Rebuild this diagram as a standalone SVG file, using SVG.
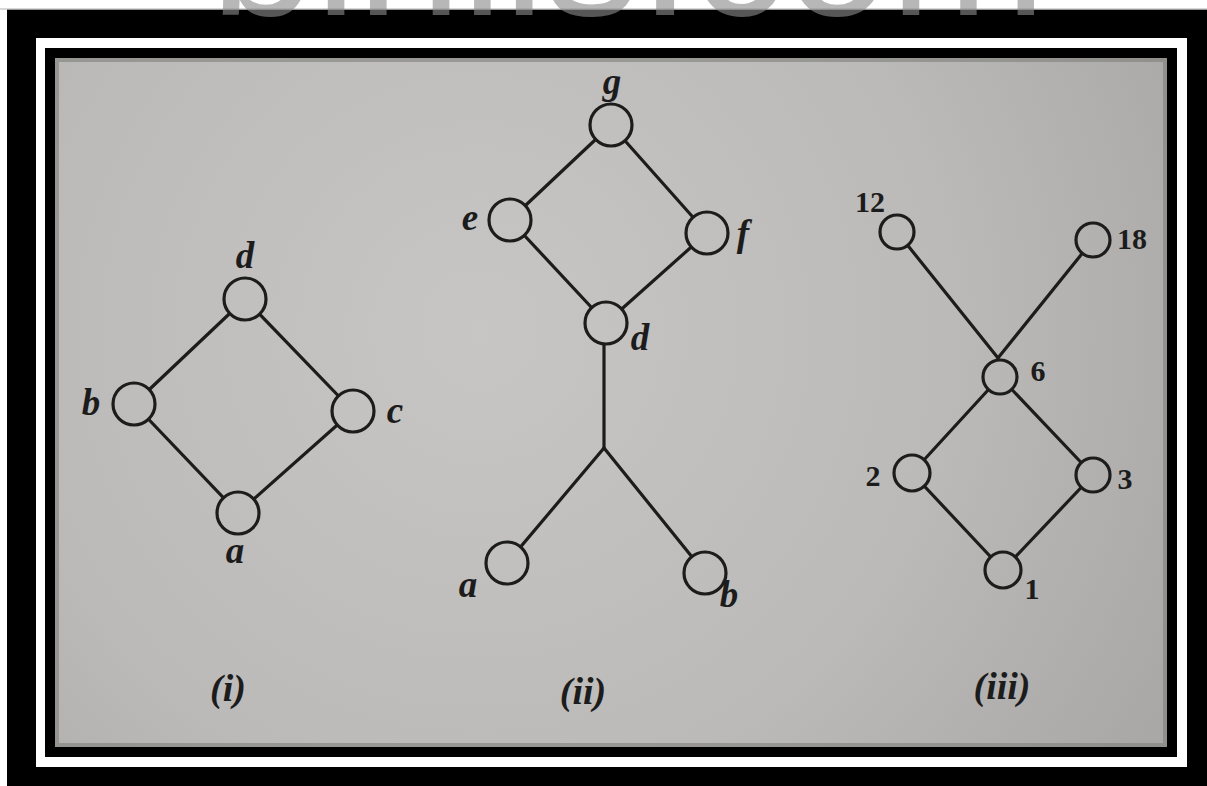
<svg xmlns="http://www.w3.org/2000/svg" width="1207" height="786" viewBox="0 0 1207 786">
<defs>
<radialGradient id="paper" gradientUnits="userSpaceOnUse" cx="480" cy="330" r="780">
<stop offset="0" stop-color="#c7c6c4"/>
<stop offset="0.6" stop-color="#bbbab8"/>
<stop offset="1" stop-color="#a9a8a6"/>
</radialGradient>
<style>
.edge{stroke:#1c1c1c;stroke-width:3.2;fill:none;stroke-linecap:round}
.node{fill:url(#paper);stroke:#1c1c1c;stroke-width:3.2}
.lbl{font-family:"Liberation Serif","Times New Roman",serif;font-weight:bold;font-style:italic;font-size:37px;fill:#1c1c1c;text-anchor:middle}
.num{font-family:"Liberation Serif","Times New Roman",serif;font-weight:bold;font-size:30px;fill:#1c1c1c;text-anchor:middle}
.cap{font-family:"Liberation Serif","Times New Roman",serif;font-weight:bold;font-style:italic;font-size:38px;fill:#1c1c1c;text-anchor:middle}
</style>
</defs>
<rect x="0" y="0" width="1207" height="786" fill="#ffffff"/>
<rect x="7" y="9.5" width="1200" height="777" fill="#000000"/>
<line x1="0" y1="9" x2="1207" y2="9" stroke="#b0b0b0" stroke-width="1"/>
<text x="210.6" y="15" font-family="Liberation Sans, Arial, sans-serif" font-size="188" fill="#8a8a8a" fill-opacity="0.62">binils.com</text>
<rect x="36" y="38" width="1151" height="729" fill="#ffffff"/>
<rect x="45" y="48" width="1132" height="709" fill="#000000"/>
<rect x="55" y="58" width="1112" height="689" fill="url(#paper)"/>
<rect x="57" y="60" width="1108" height="685" fill="none" stroke="#7f7e7c" stroke-width="4" stroke-opacity="0.6"/>

<g id="connectors">
<line class="edge" x1="245" y1="299" x2="134" y2="404"/>
<line class="edge" x1="245" y1="299" x2="353" y2="411"/>
<line class="edge" x1="134" y1="404" x2="238" y2="513"/>
<line class="edge" x1="353" y1="411" x2="238" y2="513"/>

<line class="edge" x1="611" y1="125" x2="510" y2="220"/>
<line class="edge" x1="611" y1="125" x2="707" y2="233"/>
<line class="edge" x1="510" y1="220" x2="606" y2="323"/>
<line class="edge" x1="707" y1="233" x2="606" y2="323"/>
<line class="edge" x1="604" y1="323" x2="604" y2="448"/>
<line class="edge" x1="604" y1="448" x2="507" y2="563"/>
<line class="edge" x1="604" y1="448" x2="705" y2="573"/>

<line class="edge" x1="897" y1="232" x2="998" y2="358"/>
<line class="edge" x1="1093" y1="240" x2="998" y2="358"/>
<line class="edge" x1="1000" y1="377" x2="912" y2="473"/>
<line class="edge" x1="1000" y1="377" x2="1093" y2="475"/>
<line class="edge" x1="912" y1="473" x2="1003" y2="570"/>
<line class="edge" x1="1093" y1="475" x2="1003" y2="570"/>
</g>

<g id="i-d"><circle class="node" cx="245" cy="299" r="21"/><text class="lbl" x="245" y="268">d</text></g>
<g id="i-b"><circle class="node" cx="134" cy="404" r="21"/><text class="lbl" x="91" y="415">b</text></g>
<g id="i-c"><circle class="node" cx="353" cy="411" r="21"/><text class="lbl" x="395" y="423">c</text></g>
<g id="i-a"><circle class="node" cx="238" cy="513" r="21"/><text class="lbl" x="235" y="563">a</text></g>
<g id="cap-i"><text class="cap" x="228" y="701">(i)</text></g>

<g id="ii-g"><circle class="node" cx="611" cy="125" r="21"/><text class="lbl" x="612" y="94">g</text></g>
<g id="ii-e"><circle class="node" cx="510" cy="220" r="21"/><text class="lbl" x="470" y="230">e</text></g>
<g id="ii-f"><circle class="node" cx="707" cy="233" r="21"/><text class="lbl" x="743" y="246">f</text></g>
<g id="ii-d"><circle class="node" cx="606" cy="323" r="21"/><text class="lbl" x="640" y="350">d</text></g>
<g id="ii-a"><circle class="node" cx="507" cy="563" r="21"/><text class="lbl" x="468" y="597">a</text></g>
<g id="ii-b"><circle class="node" cx="705" cy="573" r="21"/><text class="lbl" x="729" y="607">b</text></g>
<g id="cap-ii"><text class="cap" x="583" y="704">(ii)</text></g>

<g id="iii-12"><circle class="node" cx="897" cy="232" r="17"/><text class="num" x="870" y="212">12</text></g>
<g id="iii-18"><circle class="node" cx="1093" cy="240" r="17"/><text class="num" x="1132" y="249">18</text></g>
<g id="iii-6"><circle class="node" cx="1000" cy="377" r="17"/><text class="num" x="1038" y="381">6</text></g>
<g id="iii-2"><circle class="node" cx="912" cy="473" r="18"/><text class="num" x="873" y="486">2</text></g>
<g id="iii-3"><circle class="node" cx="1093" cy="475" r="17"/><text class="num" x="1125" y="489">3</text></g>
<g id="iii-1"><circle class="node" cx="1003" cy="570" r="18"/><text class="num" x="1032" y="599">1</text></g>
<g id="cap-iii"><text class="cap" x="1002" y="699">(iii)</text></g>
</svg>
